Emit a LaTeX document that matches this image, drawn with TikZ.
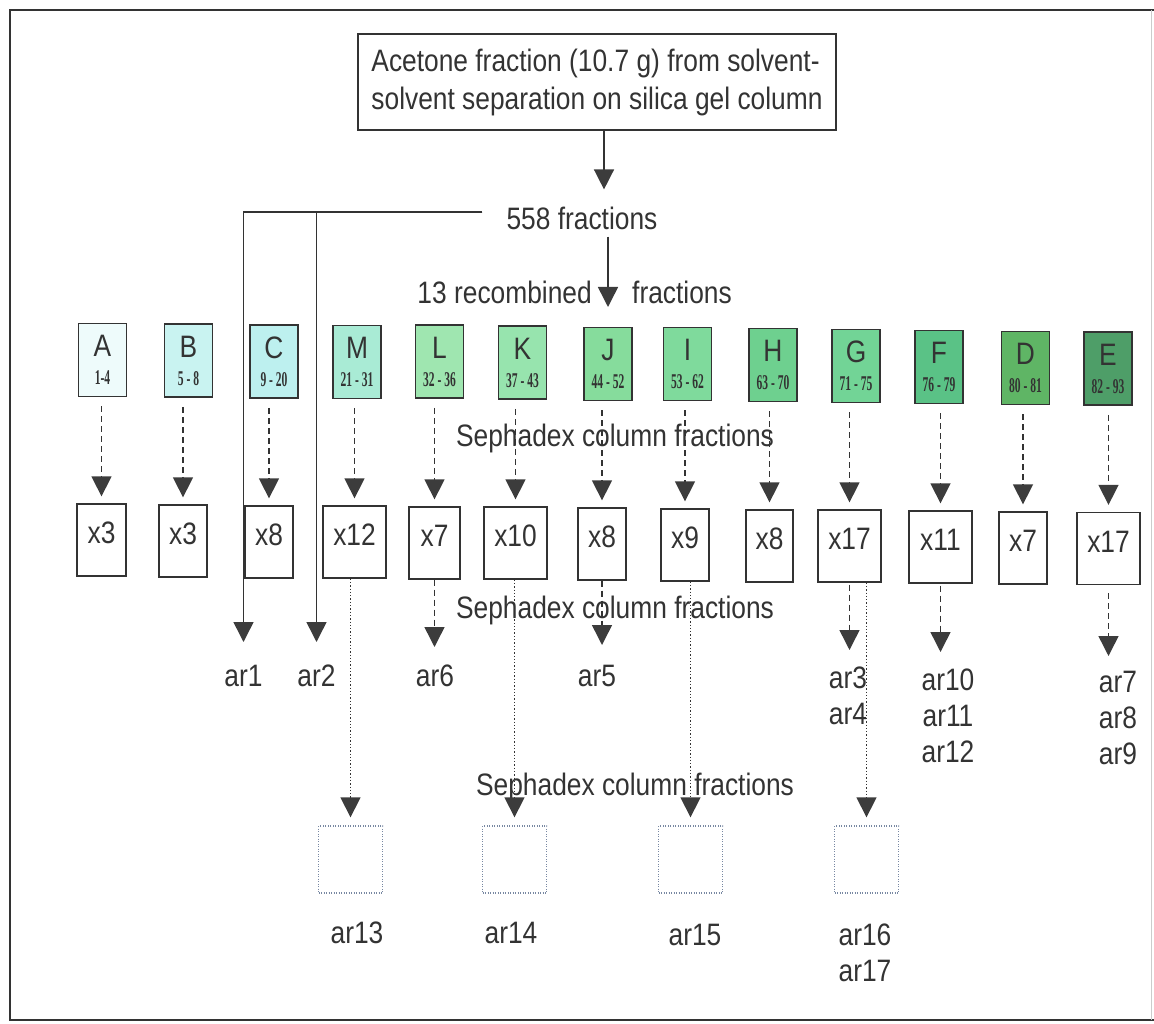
\documentclass[tikz,border=0pt]{standalone}
\usepackage{fontspec}
\setmainfont[FakeStretch=0.85]{Liberation Sans}
\newfontfamily\numfont[FakeStretch=0.55]{Liberation Serif}
\usetikzlibrary{arrows.meta,calc}
\definecolor{ink}{HTML}{333333}
\definecolor{tipc}{HTML}{3C3C3C}
\definecolor{dotc}{HTML}{7888A2}
\definecolor{cA}{HTML}{EEFBFB}
\definecolor{cB}{HTML}{C9F3F1}
\definecolor{cC}{HTML}{BDF0EF}
\definecolor{cM}{HTML}{A9EBD5}
\definecolor{cL}{HTML}{9FE6B0}
\definecolor{cK}{HTML}{97E4AE}
\definecolor{cJ}{HTML}{86DC9C}
\definecolor{cI}{HTML}{7FDA9C}
\definecolor{cH}{HTML}{6ED08F}
\definecolor{cG}{HTML}{72D496}
\definecolor{cF}{HTML}{5AC286}
\definecolor{cD}{HTML}{5FB565}
\definecolor{cE}{HTML}{4E9E68}
\newcommand{\rx}[1]{\raisebox{7pt}[\height][\depth]{#1}}
\newcommand{\nm}[1]{{\numfont\bfseries\fontsize{21}{27}\selectfont #1}}
\tikzset{
  bigfont/.style={font=\fontsize{31}{36}\selectfont},
  sarr/.style={draw=ink, line width=1.5pt, -{Triangle[width=20pt,length=20pt,color=tipc]}},
  darr/.style={sarr, dash pattern=on 6pt off 4pt},
  dotarr/.style={draw=ink, line width=1.3pt, dash pattern=on 1.3pt off 2pt, -{Triangle[width=20pt,length=20pt,color=tipc]}},
  lbox/.style={draw=ink, line width=1.5pt, minimum width=48pt, minimum height=73pt, inner sep=0pt, align=center, font=\fontsize{31}{28}\selectfont, text=ink},
  xbox/.style={draw=ink, line width=1.3pt, minimum height=72pt, inner sep=0pt, bigfont, text=ink},
  dbox/.style={draw=dotc, line width=1.3pt, dash pattern=on 1pt off 1.5pt, minimum width=64pt, minimum height=67pt, inner sep=0pt},
  lab/.style={bigfont, text=ink, inner sep=0pt, align=center}
}
\begin{document}
\begin{tikzpicture}[x=1pt,y=-1pt]
\useasboundingbox (0,0) rectangle (1154,1024);
% frame
\draw[draw=ink, line width=1.5pt] (1154,10) -- (10,10) -- (10,1020) -- (1154,1020);
\draw[draw=gray!40, line width=1pt] (1151,10) -- (1151,1020);

% title
\node[draw=ink, line width=1.5pt, minimum width=478pt, minimum height=96pt, align=left, inner sep=0pt, text=ink, font=\fontsize{31}{38}\selectfont]
  (title) at (597,82) {Acetone fraction (10.7 g) from solvent-\\solvent separation on silica gel column};

\node[lab, inner xsep=24pt] (f558) at (582,218) {558 fractions};
\node[lab, anchor=east] (rec) at (592,292) {13 recombined};
\node[lab, anchor=west] (recf) at (632,292) {fractions};
\coordinate (tipR) at (608,307);

% top row
\node[lbox, fill=cA] (tA) at (102.5,360) {A\\\nm{1-4}};
\node[lbox, fill=cB] (tB) at (188.5,360.5) {B\\\nm{5 - 8}};
\node[lbox, fill=cC] (tC) at (274,361.5) {C\\\nm{9 - 20}};
\node[lbox, fill=cM] (tM) at (357,362) {M\\\nm{21 - 31}};
\node[lbox, fill=cL] (tL) at (439.5,361.5) {L\\\nm{32 - 36}};
\node[lbox, fill=cK] (tK) at (522.5,362.5) {K\\\nm{37 - 43}};
\node[lbox, fill=cJ] (tJ) at (608,364) {J\\\nm{44 - 52}};
\node[lbox, fill=cI] (tI) at (687.5,364) {I\\\nm{53 - 62}};
\node[lbox, fill=cH] (tH) at (773,365) {H\\\nm{63 - 70}};
\node[lbox, fill=cG] (tG) at (856,366) {G\\\nm{71 - 75}};
\node[lbox, fill=cF] (tF) at (939,367) {F\\\nm{76 - 79}};
\node[lbox, fill=cD] (tD) at (1025.5,368) {D\\\nm{80 - 81}};
\node[lbox, fill=cE] (tE) at (1108,368.5) {E\\\nm{82 - 93}};

% x row
\node[xbox, minimum width=49pt] (xA) at (101.5,540) {\rx{x3}};
\node[xbox, minimum width=48pt] (xB) at (183,541) {\rx{x3}};
\node[xbox, minimum width=48pt] (xC) at (269,542) {\rx{x8}};
\node[xbox, minimum width=63pt] (xM) at (354.5,542) {\rx{x12}};
\node[xbox, minimum width=51pt] (xL) at (434.5,543) {\rx{x7}};
\node[xbox, minimum width=63pt] (xK) at (515.5,543) {\rx{x10}};
\node[xbox, minimum width=48pt] (xJ) at (602,544) {\rx{x8}};
\node[xbox, minimum width=48pt] (xI) at (685,545) {\rx{x9}};
\node[xbox, minimum width=47pt] (xH) at (769.5,546) {\rx{x8}};
\node[xbox, minimum width=63pt] (xG) at (849.5,546) {\rx{x17}};
\node[xbox, minimum width=63pt] (xF) at (940.5,547) {\rx{x11}};
\node[xbox, minimum width=48pt] (xD) at (1023,548) {\rx{x7}};
\node[xbox, minimum width=63pt] (xE) at (1108.5,548.5) {\rx{x17}};

% sephadex labels
\node[lab] (s1) at (615,438) {Sephadex column fractions};
\node[lab] (s2) at (615,610) {Sephadex column fractions};
\node[lab] (s3) at (635,787) {Sephadex column fractions};

% ar labels
\node[lab, anchor=north] (ar1) at (243.5,665) {ar1};
\node[lab, anchor=north] (ar2) at (316.5,665) {ar2};
\node[lab, anchor=north] (ar6) at (435,665) {ar6};
\node[lab, anchor=north] (ar5) at (597,665) {ar5};
\node[lab, anchor=north] (ar34) at (848,667) {ar3\\ar4};
\node[lab, anchor=north] (ar1012) at (948,669) {ar10\\ar11\\ar12};
\node[lab, anchor=north] (ar79) at (1118,671) {ar7\\ar8\\ar9};

% dotted boxes
\node[dbox] (bM) at (350.5,859.5) {};
\node[dbox] (bK) at (514.5,859.5) {};
\node[dbox] (bI) at (690.5,859.5) {};
\node[dbox] (bG) at (866.5,859.5) {};
\node[lab, anchor=north] (ar13) at (357,922) {ar13};
\node[lab, anchor=north] (ar14) at (511,922) {ar14};
\node[lab, anchor=north] (ar15) at (695,924) {ar15};
\node[lab, anchor=north] (ar1617) at (865,924) {ar16\\ar17};

% connectors
\draw[sarr, shorten >=17pt] ([xshift=7pt]title.south) -- ([xshift=7pt]title.south |- f558.north);
\draw[sarr, shorten <=7pt] ([xshift=26pt]f558.south) -- (tipR);
\draw[sarr, shorten >=23pt] ([yshift=6pt]f558.west) -| (ar1.north);
\draw[sarr, shorten >=23pt] ([yshift=6pt]f558.west) -| (ar2.north);

\foreach \c in {A,B,C,M,L,K,J,I,H,G,F,D,E}{
  \draw[darr, shorten <=9pt, shorten >=7pt] (t\c.south -| x\c.north) -- (x\c.north);
}

\draw[darr, shorten >=18pt] (xL.south) -- (xL.south |- ar6.north);
\draw[darr, shorten >=20pt] (xJ.south) -- (xJ.south |- ar5.north);
\draw[darr, shorten <=2pt, shorten >=17pt] (xG.south) -- (xG.south |- ar34.north);
\draw[darr, shorten <=2pt, shorten >=17pt] (xF.south) -- (xF.south |- ar1012.north);
\draw[darr, shorten <=8pt, shorten >=15pt] (xE.south) -- (xE.south |- ar79.north);

\draw[dotarr, shorten >=8pt] (xM.south -| bM.north) -- (bM.north);
\draw[dotarr, shorten >=8pt] (xK.south -| bK.north) -- (bK.north);
\draw[dotarr, shorten >=8pt] (xI.south -| bI.north) -- (bI.north);
\draw[dotarr, shorten >=8pt] (xG.south -| bG.north) -- (bG.north);
\end{tikzpicture}
\end{document}
